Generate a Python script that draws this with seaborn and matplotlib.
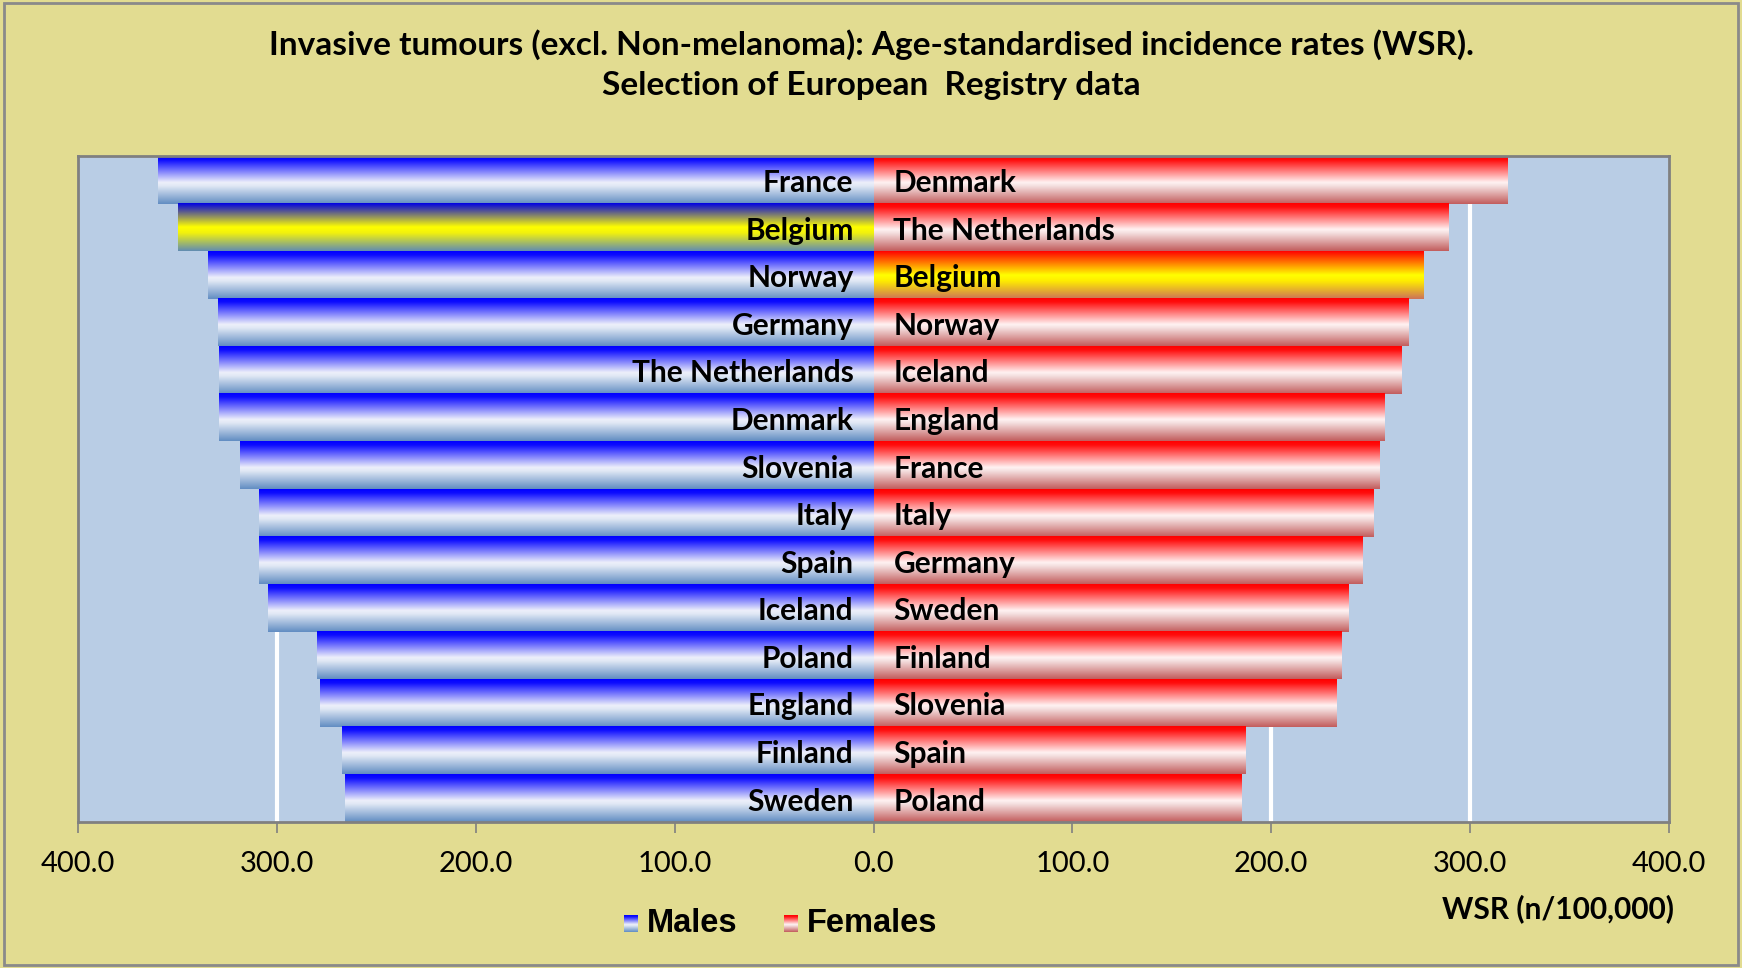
import numpy as np
import pandas as pd
import matplotlib
matplotlib.use("Agg")
import matplotlib.pyplot as plt
from matplotlib.colors import LinearSegmentedColormap
import seaborn as sns

# ---------------- data ----------------
male_countries = ["France", "Belgium", "Norway", "Germany", "The Netherlands", "Denmark",
                  "Slovenia", "Italy", "Spain", "Iceland", "Poland", "England", "Finland", "Sweden"]
male_values = [360.0, 349.5, 334.5, 329.8, 329.3, 329.0, 318.5, 309.2, 309.0, 304.4,
               280.0, 278.4, 267.2, 265.8]
female_countries = ["Denmark", "The Netherlands", "Belgium", "Norway", "Iceland", "England",
                    "France", "Italy", "Germany", "Sweden", "Finland", "Slovenia", "Spain", "Poland"]
female_values = [318.7, 289.0, 276.2, 268.8, 265.0, 256.6, 254.4, 251.0, 245.5, 238.4,
                 234.9, 232.4, 186.6, 185.0]
tick_values = [-400, -300, -200, -100, 0, 100, 200, 300, 400]
highlight = "Belgium"

title = ("Invasive tumours (excl. Non-melanoma): Age-standardised incidence rates (WSR).\n"
         "Selection of European  Registry data")
legend_labels = ["Males", "Females"]
unit_label = "WSR (n/100,000)"

# ---------------- style ----------------
FIG_BG = "#E2DC91"
AX_BG = "#B9CDE5"
sns.set_theme(style="white")
plt.rcParams["font.family"] = ["Lato", "DejaVu Sans"]
plt.rcParams["text.color"] = "black"
plt.rcParams["xtick.color"] = "black"

cm_male = LinearSegmentedColormap.from_list(
    "m", [(0, (0.0, 0.0, 1.0)), (0.08, (0.05, 0.05, 1.0)), (0.55, (0.93, 0.94, 0.98)),
          (0.62, (0.88, 0.91, 0.96)), (1.0, (0.38, 0.55, 0.76))])
cm_female = LinearSegmentedColormap.from_list(
    "f", [(0, (1.0, 0.0, 0.0)), (0.08, (1.0, 0.05, 0.05)), (0.55, (1.0, 0.95, 0.95)),
          (0.62, (0.96, 0.88, 0.88)), (1.0, (0.76, 0.36, 0.36))])
cm_male_hl = LinearSegmentedColormap.from_list(
    "mh", [(0, (0.0, 0.0, 0.9)), (0.1, (0.2, 0.2, 0.7)), (0.5, (1.0, 1.0, 0.0)),
           (0.62, (0.95, 0.95, 0.05)), (1.0, (0.38, 0.55, 0.70))])
cm_female_hl = LinearSegmentedColormap.from_list(
    "fh", [(0, (1.0, 0.0, 0.0)), (0.1, (1.0, 0.2, 0.0)), (0.5, (1.0, 1.0, 0.0)),
           (0.62, (1.0, 0.93, 0.0)), (1.0, (0.80, 0.45, 0.35))])

grad = np.linspace(0, 1, 256).reshape(-1, 1)

fig = plt.figure(figsize=(17.42, 9.68), dpi=100, facecolor=FIG_BG)
ax = fig.add_axes([78 / 1742, 1 - 822 / 968, (1669 - 78) / 1742, (822 - 156) / 968])
ax.set_facecolor(AX_BG)

ranks = [str(i) for i in range(len(male_countries))]
df_m = pd.DataFrame({"rank": ranks, "value": [-v for v in male_values]})
df_f = pd.DataFrame({"rank": ranks, "value": female_values})

sns.barplot(data=df_m, x="value", y="rank", orient="h", width=1.0, ax=ax,
            color="blue", order=ranks, zorder=2)
sns.barplot(data=df_f, x="value", y="rank", orient="h", width=1.0, ax=ax,
            color="red", order=ranks, zorder=2)

ax.set_xlim(-400, 400)
ax.set_ylim(len(ranks) - 0.5, -0.5)

# gradient fill for each bar
n = len(ranks)
for i, p in enumerate(list(ax.patches)):
    x0, y0, w, h = p.get_x(), p.get_y(), p.get_width(), p.get_height()
    xa, xb = min(x0, x0 + w), max(x0, x0 + w)
    if i < n:
        cmap = cm_male_hl if male_countries[i] == highlight else cm_male
    else:
        cmap = cm_female_hl if female_countries[i - n] == highlight else cm_female
    p.set_visible(False)
    ax.imshow(grad, cmap=cmap, aspect="auto", origin="upper",
              extent=(xa, xb, y0 + h, y0), zorder=2, interpolation="bilinear")
ax.set_xlim(-400, 400)
ax.set_ylim(len(ranks) - 0.5, -0.5)

# country labels
for i, c in enumerate(male_countries):
    ax.text(-10, i + 0.07, c, ha="right", va="center", fontsize=21.5, fontweight="bold",
            color="black", zorder=3)
for i, c in enumerate(female_countries):
    ax.text(10, i + 0.07, c, ha="left", va="center", fontsize=21.5, fontweight="bold",
            color="black", zorder=3)

# grid & axes
ax.set_xticks(tick_values)
ax.set_xticklabels([f"{abs(t):.1f}" for t in tick_values], fontsize=21)
for t in tick_values:
    if t not in (-400, 400):
        ax.axvline(t, color="white", lw=3, zorder=1)
ax.set_yticks([])
ax.set_xlabel("")
ax.set_ylabel("")
ax.tick_params(axis="x", direction="out", length=8, width=1.2, color="#808080",
               labelcolor="black", pad=13, bottom=True)
for s in ax.spines.values():
    s.set_visible(True)
    s.set_color("#808080")
    s.set_linewidth(2)

# title
fig.text(0.5, 1 - 64.5 / 968, title, ha="center", va="center", fontsize=24,
         fontweight="bold", linespacing=1.45, color="black")

# legend
def legend_patch(xc, cmap):
    lax = fig.add_axes([(xc - 7) / 1742, 1 - 932 / 968, 14 / 1742, 17 / 968])
    lax.imshow(grad, cmap=cmap, aspect="auto", origin="upper")
    lax.axis("off")

legend_patch(631, cm_male)
legend_patch(791, cm_female)
fig.text(647 / 1742, 1 - 923 / 968, legend_labels[0], ha="left", va="center",
         fontsize=23.5, fontweight="bold", family=["Liberation Sans", "DejaVu Sans"],
         color="black")
fig.text(807 / 1742, 1 - 923 / 968, legend_labels[1], ha="left", va="center",
         fontsize=23.5, fontweight="bold", family=["Liberation Sans", "DejaVu Sans"],
         color="black")
fig.text(1674 / 1742, 1 - 909 / 968, unit_label, ha="right", va="center",
         fontsize=21.5, fontweight="bold", color="black")

# figure border
fig.patches.append(plt.Rectangle((4 / 1742, 3 / 968), 1 - 8 / 1742, 1 - 6 / 968,
                                 transform=fig.transFigure, fill=False,
                                 edgecolor="#8a8a8a", lw=2))

fig.savefig("out.png", dpi=100, facecolor=FIG_BG)
